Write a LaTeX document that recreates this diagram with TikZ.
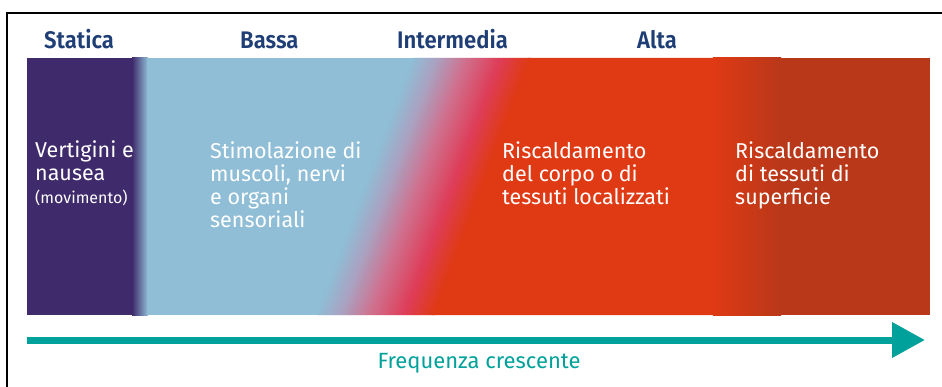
\documentclass[tikz,border=0pt]{standalone}
\usepackage{fontspec}
\setmainfont{Fira Sans}
\newfontfamily\headfont[FakeStretch=0.92]{Fira Sans SemiBold}
\usetikzlibrary{arrows.meta}

\definecolor{cpurple}{HTML}{3F2A6B}
\definecolor{cblue}{HTML}{8FBED6}
\definecolor{cmauve}{HTML}{A9A3C2}
\definecolor{cpink}{HTML}{CF7290}
\definecolor{ccrimson}{HTML}{DE3D58}
\definecolor{cred}{HTML}{DF3A14}
\definecolor{cdarkred}{HTML}{B9381A}
\definecolor{cnavy}{HTML}{1E3E75}
\definecolor{cteal}{HTML}{00A19A}

\tikzset{
  heading/.style={anchor=base west, inner sep=0pt, text=cnavy,
                  font=\headfont\fontsize{24}{26}\selectfont},
  effect/.style={anchor=base west, inner sep=0pt, text=white, align=left,
                 font=\fontsize{21.5}{23}\selectfont},
}

\begin{document}
\begin{tikzpicture}[x=1pt,y=-1pt]
\useasboundingbox (0,0) rectangle (942,387);

% frame
\draw[line width=2pt] (7,387) -- (7,13.5) -- (942,13.5);

% band
\fill[cpurple] (27,58) rectangle (133,315);
\shade[left color=cpurple, right color=cblue] (132,58) rectangle (148,315);
\fill[cblue] (147,58) rectangle (540,315);
\fill[cred] (528,58) -- (714,58) -- (714,315) -- (432,315) -- cycle;
\shade[left color=cred, right color=cdarkred] (713,58) rectangle (781,315);
\fill[cdarkred] (780,58) rectangle (930,315);

% diagonal blend
\foreach \ta/\tb/\ca/\cb in {0/0.2/cblue/cmauve, 0.2/0.45/cmauve/cpink,
                              0.45/0.75/cpink/ccrimson, 0.75/1/ccrimson/cred}
  \foreach \k in {0,...,11} {
    \pgfmathsetmacro\xa{413+117*(\ta+(\tb-\ta)*\k/12)}
    \pgfmathsetmacro\xb{413+117*(\ta+(\tb-\ta)*(\k+1)/12)+0.6}
    \pgfmathtruncatemacro\p{100-100*(\k+0.5)/12}
    \fill[\ca!\p!\cb] (\xa,58) -- (\xb,58) -- ++(-96,257) -- (\xa-96,315) -- cycle;
  }

% headings
\node[heading] (statica)    at (44,49)  {Statica};
\node[heading] (bassa)      at (240,49) {Bassa};
\node[heading] (intermedia) at (397,49) {Intermedia};
\node[heading] (alta)       at (637,49) {Alta};

% effects (base = last line)
\node[effect] (vertigini) at (35,204)
  {Vertigini e\\nausea\\{\fontsize{16}{23}\selectfont(movimento)}};
\node[effect] (stimolazione) at (210,228)
  {Stimolazione di\\muscoli, nervi\\e organi\\sensoriali};
\node[effect] (corpo) at (502,205)
  {Riscaldamento\\del corpo o di\\tessuti localizzati};
\node[effect] (superficie) at (735,205)
  {Riscaldamento\\di tessuti di\\superficie};

% frequency axis
\coordinate (axisstart) at (27,340);
\coordinate (axisend)   at (925,340);
\draw[cteal, line width=7pt, -{Triangle[length=33pt,width=34pt]}]
  (axisstart) -- (axisend);
\node[anchor=base, text=cteal, inner sep=0pt,
      font=\fontsize{22}{24}\selectfont] (frequenza) at (479,368)
  {Frequenza crescente};

\end{tikzpicture}
\end{document}
